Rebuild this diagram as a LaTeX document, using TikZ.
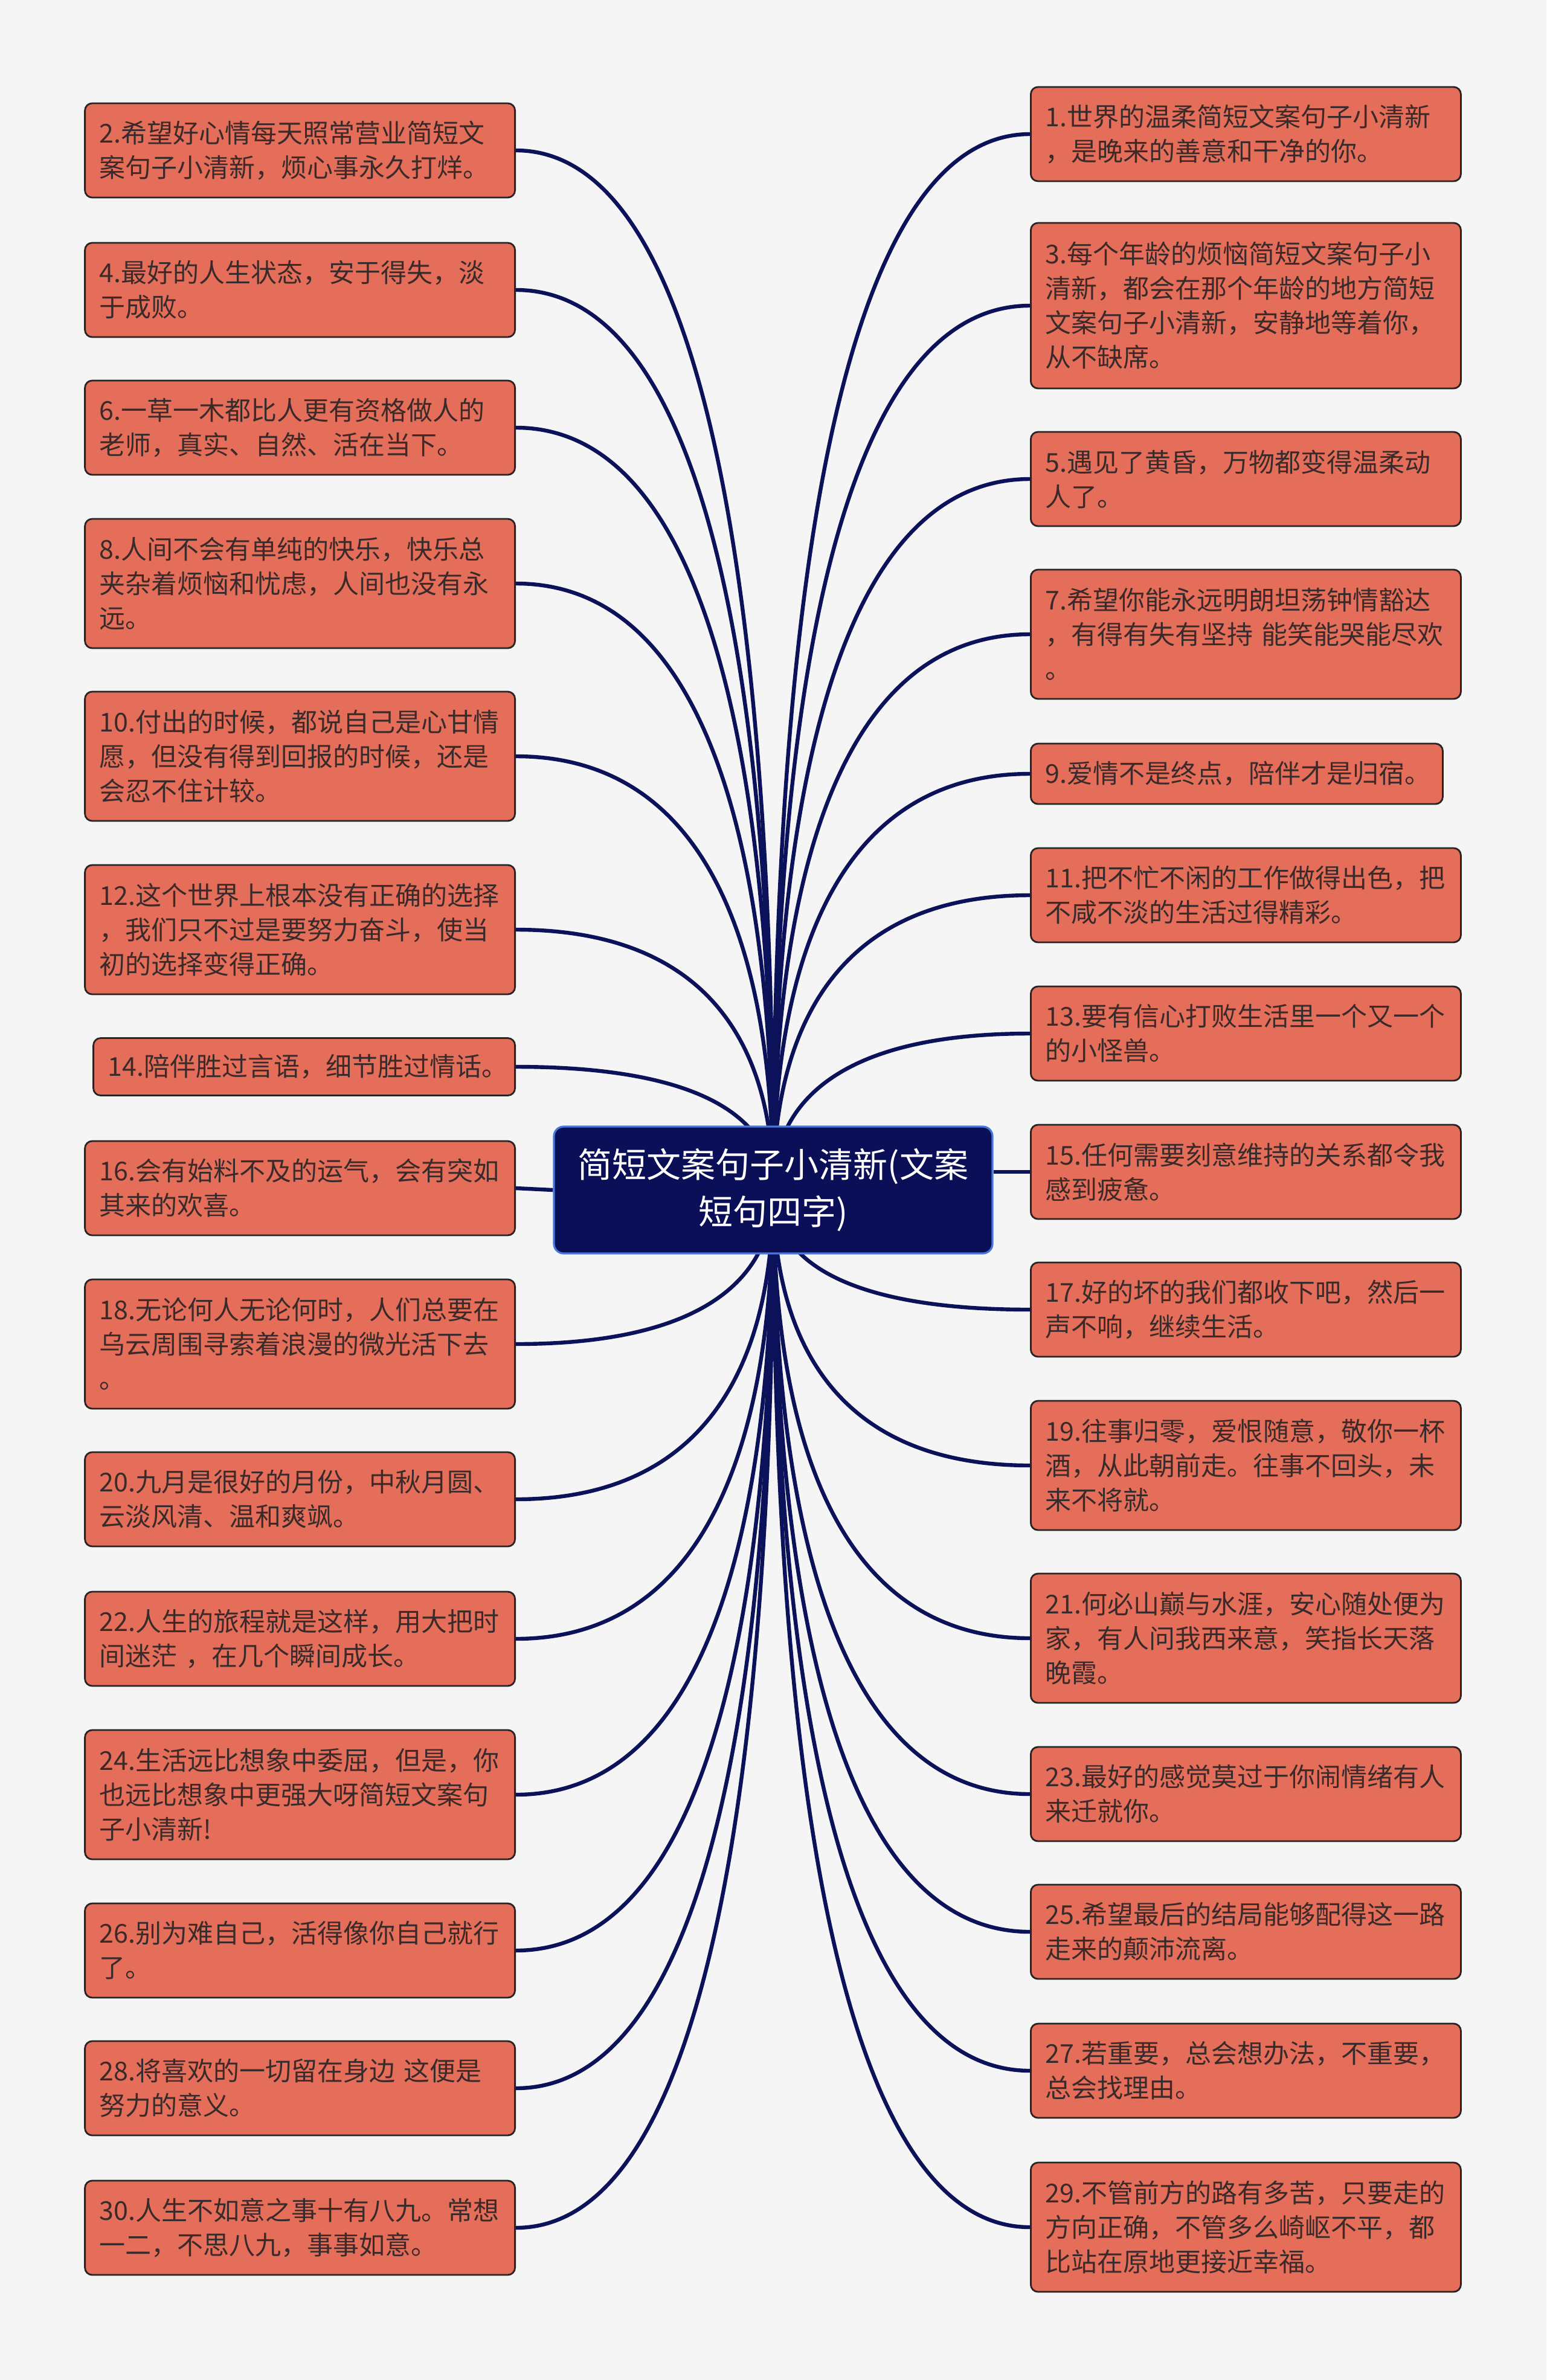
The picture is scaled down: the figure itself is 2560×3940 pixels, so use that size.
\documentclass[tikz,border=0pt]{standalone}
\usepackage{fontspec}
\newfontfamily\cjk{Noto Sans CJK SC}
\usetikzlibrary{calc,backgrounds}
\definecolor{PageGray}{RGB}{245,245,245}
\definecolor{LeafRed}{RGB}{228,110,90}
\definecolor{LeafEdge}{RGB}{40,36,36}
\definecolor{LeafText}{RGB}{58,42,42}
\definecolor{TopicNavy}{RGB}{10,15,88}
\definecolor{TopicEdge}{RGB}{70,120,220}
\definecolor{LinkNavy}{RGB}{12,18,90}

\begin{document}
\begin{tikzpicture}[
  x=0.25pt, y=-0.25pt,
  leaf/.style={draw=LeafEdge,fill=LeafRed,line width=0.7pt,rounded corners=3pt,
               text=LeafText,font=\cjk\fontsize{10.75}{14.25}\selectfont,
               align=left,text width=166pt,inner xsep=6pt,inner ysep=3pt},
  lleaf/.style={leaf,anchor=east},
  rleaf/.style={leaf,anchor=west},
  oneline/.style={minimum height=23.75pt},
  twoline/.style={minimum height=39pt},
  threeline/.style={minimum height=53.5pt},
  fourline/.style={minimum height=68.5pt},
  topic/.style={draw=TopicEdge,fill=TopicNavy,line width=0.8pt,rounded corners=4pt,
                text=white,font=\cjk\fontsize{14.25}{19.5}\selectfont,align=center,
                minimum width=181.5pt,minimum height=52.5pt},
  link/.style={draw=LinkNavy,line width=1.6pt,
               to path={.. controls ($(\tikztostart)!0.75!(\tikztotarget |- \tikztostart)$)
                        and ($(\tikztotarget)!0.55!(\tikztotarget |- \tikztostart)$) .. (\tikztotarget)}},
]
\useasboundingbox (0,0) rectangle (2560,3940);
\node[topic] (root) at (1280,1970) {简短文案句子小清新(文案\\短句四字)};

\node[lleaf,twoline]   (l2)  at (854,249)  {2.希望好心情每天照常营业简短文\\案句子小清新，烦心事永久打烊。};
\node[lleaf,twoline]   (l4)  at (854,480)  {4.最好的人生状态，安于得失，淡\\于成败。};
\node[lleaf,twoline]   (l6)  at (854,708)  {6.一草一木都比人更有资格做人的\\老师，真实、自然、活在当下。};
\node[lleaf,threeline] (l8)  at (854,966)  {8.人间不会有单纯的快乐，快乐总\\夹杂着烦恼和忧虑，人间也没有永\\远。};
\node[lleaf,threeline] (l10) at (854,1252) {10.付出的时候，都说自己是心甘情\\愿，但没有得到回报的时候，还是\\会忍不住计较。};
\node[lleaf,threeline] (l12) at (854,1539) {12.这个世界上根本没有正确的选择\\，我们只不过是要努力奋斗，使当\\初的选择变得正确。};
\node[lleaf,oneline,text width=162.5pt] (l14) at (854,1766) {14.陪伴胜过言语，细节胜过情话。};
\node[lleaf,twoline]   (l16) at (854,1967) {16.会有始料不及的运气，会有突如\\其来的欢喜。};
\node[lleaf,threeline] (l18) at (854,2225) {18.无论何人无论何时，人们总要在\\乌云周围寻索着浪漫的微光活下去\\。};
\node[lleaf,twoline]   (l20) at (854,2482) {20.九月是很好的月份，中秋月圆、\\云淡风清、温和爽飒。};
\node[lleaf,twoline]   (l22) at (854,2713) {22.人生的旅程就是这样，用大把时\\间迷茫 ，在几个瞬间成长。};
\node[lleaf,threeline] (l24) at (854,2971) {24.生活远比想象中委屈，但是，你\\也远比想象中更强大呀简短文案句\\子小清新!};
\node[lleaf,twoline]   (l26) at (854,3229) {26.别为难自己，活得像你自己就行\\了。};
\node[lleaf,twoline]   (l28) at (854,3457) {28.将喜欢的一切留在身边 这便是\\努力的意义。};
\node[lleaf,twoline]   (l30) at (854,3688) {30.人生不如意之事十有八九。常想\\一二，不思八九，事事如意。};

\node[rleaf,twoline]   (r1)  at (1705,222)  {1.世界的温柔简短文案句子小清新\\，是晚来的善意和干净的你。};
\node[rleaf,fourline]  (r3)  at (1705,506)  {3.每个年龄的烦恼简短文案句子小\\清新，都会在那个年龄的地方简短\\文案句子小清新，安静地等着你，\\从不缺席。};
\node[rleaf,twoline]   (r5)  at (1705,793)  {5.遇见了黄昏，万物都变得温柔动\\人了。};
\node[rleaf,threeline] (r7)  at (1705,1050) {7.希望你能永远明朗坦荡钟情豁达\\，有得有失有坚持 能笑能哭能尽欢\\。};
\node[rleaf,oneline,text width=158.5pt,minimum height=25pt] (r9) at (1705,1281) {9.爱情不是终点，陪伴才是归宿。};
\node[rleaf,twoline]   (r11) at (1705,1482) {11.把不忙不闲的工作做得出色，把\\不咸不淡的生活过得精彩。};
\node[rleaf,twoline]   (r13) at (1705,1711) {13.要有信心打败生活里一个又一个\\的小怪兽。};
\node[rleaf,twoline]   (r15) at (1705,1940) {15.任何需要刻意维持的关系都令我\\感到疲惫。};
\node[rleaf,twoline]   (r17) at (1705,2168) {17.好的坏的我们都收下吧，然后一\\声不响，继续生活。};
\node[rleaf,threeline] (r19) at (1705,2426) {19.往事归零，爱恨随意，敬你一杯\\酒，从此朝前走。往事不回头，未\\来不将就。};
\node[rleaf,threeline] (r21) at (1705,2712) {21.何必山巅与水涯，安心随处便为\\家，有人问我西来意，笑指长天落\\晚霞。};
\node[rleaf,twoline]   (r23) at (1705,2970) {23.最好的感觉莫过于你闹情绪有人\\来迁就你。};
\node[rleaf,twoline]   (r25) at (1705,3198) {25.希望最后的结局能够配得这一路\\走来的颠沛流离。};
\node[rleaf,twoline]   (r27) at (1705,3428) {27.若重要，总会想办法，不重要，\\总会找理由。};
\node[rleaf,threeline] (r29) at (1705,3687) {29.不管前方的路有多苦，只要走的\\方向正确，不管多么崎岖不平，都\\比站在原地更接近幸福。};

\begin{scope}[on background layer]
\fill[PageGray] (0,0) rectangle (2560,3940);
\draw[link] (l2.east) to (root.center);
\draw[link] (l4.east) to (root.center);
\draw[link] (l6.east) to (root.center);
\draw[link] (l8.east) to (root.center);
\draw[link] (l10.east) to (root.center);
\draw[link] (l12.east) to (root.center);
\draw[link] (l14.east) to (root.center);
\draw[link] (l16.east) -- (root.west);
\draw[link] (l18.east) to (root.center);
\draw[link] (l20.east) to (root.center);
\draw[link] (l22.east) to (root.center);
\draw[link] (l24.east) to (root.center);
\draw[link] (l26.east) to (root.center);
\draw[link] (l28.east) to (root.center);
\draw[link] (l30.east) to (root.center);
\draw[link] (r1.west) to (root.center);
\draw[link] (r3.west) to (root.center);
\draw[link] (r5.west) to (root.center);
\draw[link] (r7.west) to (root.center);
\draw[link] (r9.west) to (root.center);
\draw[link] (r11.west) to (root.center);
\draw[link] (r13.west) to (root.center);
\draw[link] (r15.west) -- (r15.west -| root.east);
\draw[link] (r17.west) to (root.center);
\draw[link] (r19.west) to (root.center);
\draw[link] (r21.west) to (root.center);
\draw[link] (r23.west) to (root.center);
\draw[link] (r25.west) to (root.center);
\draw[link] (r27.west) to (root.center);
\draw[link] (r29.west) to (root.center);
\end{scope}
\end{tikzpicture}
\end{document}
